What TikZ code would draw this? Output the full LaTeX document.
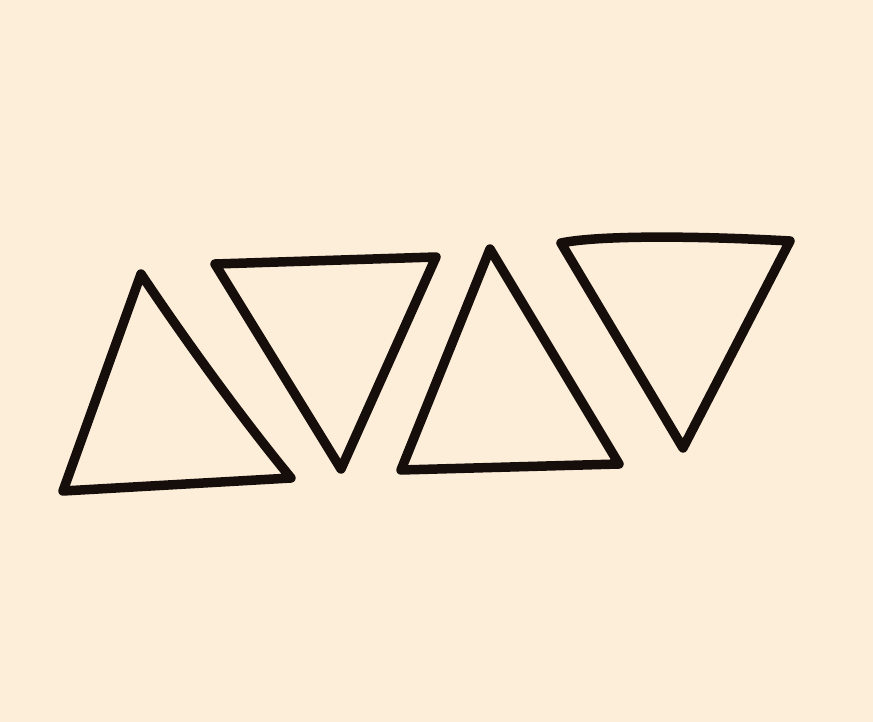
\documentclass[tikz,border=0pt]{standalone}
\begin{document}
\begin{tikzpicture}[x=1pt,y=-1pt,
  tri/.style={line width=9.5pt,draw={rgb,255:red,22;green,14;blue,10},line join=round,line cap=round}]
\definecolor{paper}{RGB}{253,238,218}
\fill[paper] (0,0) rectangle (873,722);
\useasboundingbox (0,0) rectangle (873,722);
% triangle 1 (up)
\coordinate (a1) at (141,274);
\coordinate (b1) at (291,478);
\coordinate (c1) at (63,491);
\draw[tri] (a1) .. controls (175,325) and (235,410) .. (b1) -- (c1) -- cycle;
% triangle 2 (down)
\coordinate (a2) at (215,264);
\coordinate (b2) at (436,257);
\coordinate (c2) at (341,469);
\draw[tri] (a2) -- (b2) -- (c2) -- cycle;
% triangle 3 (up)
\coordinate (a3) at (490,249);
\coordinate (b3) at (619,464);
\coordinate (c3) at (401,470);
\draw[tri] (a3) -- (b3) -- (c3) -- cycle;
% triangle 4 (down)
\coordinate (a4) at (561,243);
\coordinate (b4) at (790,241);
\coordinate (c4) at (683,448);
\draw[tri] (a4) .. controls (600,235) and (700,236) .. (b4) -- (c4) -- cycle;
\end{tikzpicture}
\end{document}
